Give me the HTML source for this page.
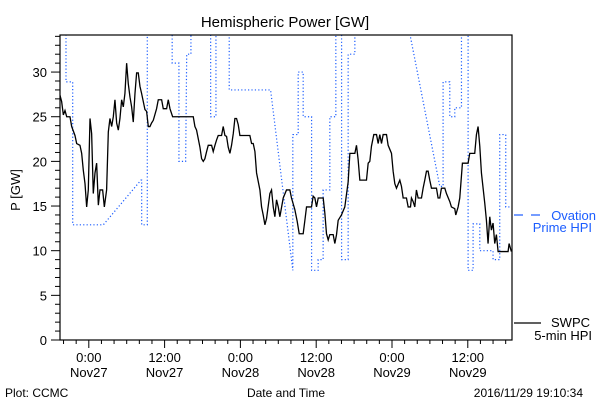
<!DOCTYPE html>
<html><head><meta charset="utf-8"><style>
html,body{margin:0;padding:0;background:#fff}
svg{display:block;font-family:"Liberation Sans",sans-serif}
</style></head><body>
<svg id="chart" width="600" height="400" viewBox="0 0 600 400">
<defs><clipPath id="pc"><rect x="60" y="35" width="452" height="305"/></clipPath></defs>
<rect width="600" height="400" fill="#fff"/>
<text x="285" y="27" font-size="15" text-anchor="middle">Hemispheric Power [GW]</text>
<text transform="translate(20,190) rotate(-90)" font-size="13" text-anchor="middle">P [GW]</text>
<text x="286" y="397" font-size="12" text-anchor="middle">Date and Time</text>
<text x="5" y="397" font-size="12">Plot: CCMC</text>
<text x="583" y="397" font-size="12" text-anchor="end">2016/11/29 19:10:34</text>
<g id="axes"></g>
<g id="series" clip-path="url(#pc)"></g>
<rect x="60" y="35" width="452" height="305" fill="none" stroke="#000" stroke-width="1.2"/>
<g>
<line x1="514" y1="215" x2="523" y2="215" stroke="#1a5cff" stroke-width="1.2"/>
<line x1="531" y1="215" x2="540" y2="215" stroke="#1a5cff" stroke-width="1.2"/>
<text x="596" y="220" font-size="13" fill="#1a5cff" text-anchor="end">Ovation</text>
<text x="592" y="232" font-size="13" fill="#1a5cff" text-anchor="end">Prime HPI</text>
</g>
<g>
<line x1="514" y1="323" x2="541" y2="323" stroke="#000" stroke-width="1.2"/>
<text x="590" y="327" font-size="13" text-anchor="end">SWPC</text>
<text x="592" y="340" font-size="13" text-anchor="end">5-min HPI</text>
</g>
</svg>
<script>
const swpcHours=[-4.56,-4.3,-4.03,-3.77,-3.5,-2.98,-2.71,-2.19,-1.92,-1.4,-1.13,-0.87,-0.6,-0.34,-0.08,0.19,0.45,0.71,0.98,1.24,1.51,1.77,2.19,2.46,2.82,3.09,3.35,3.62,3.88,4.14,4.41,4.67,4.93,5.2,5.46,5.72,5.99,6.25,6.52,6.78,7.04,7.31,7.57,7.83,8.1,8.36,8.89,9.15,9.42,9.68,9.94,10.21,10.73,11.0,11.53,11.79,12.32,12.58,12.85,13.27,16.54,16.8,17.06,17.59,17.86,18.12,18.38,18.65,18.91,19.44,19.7,19.97,20.23,20.49,21.02,21.28,21.55,21.81,22.07,22.34,22.6,22.87,23.13,23.39,23.66,23.92,25.5,25.77,26.03,26.3,26.56,27.09,27.35,27.61,27.88,28.14,28.67,28.93,29.2,29.46,29.72,29.99,30.25,30.78,31.3,31.83,32.09,32.62,32.99,33.31,33.41,33.94,34.21,34.47,35.26,35.52,35.79,36.05,36.32,37.11,37.37,37.63,37.9,38.16,38.69,38.95,39.22,39.48,40.0,40.53,41.06,41.33,42.12,42.38,42.64,42.91,43.96,44.23,44.49,44.75,45.12,45.55,45.81,46.07,46.34,46.6,47.13,47.39,47.92,48.18,48.45,48.71,49.24,49.5,49.77,50.29,50.56,50.93,51.08,51.35,51.61,51.87,52.14,52.67,52.93,53.19,53.46,53.72,53.98,54.25,55.04,55.3,55.57,55.83,56.36,56.62,57.15,57.41,57.94,58.1,58.47,58.73,59.15,60.05,60.31,61.1,61.37,61.63,61.9,62.16,62.69,62.95,63.21,63.48,63.74,64.0,64.27,64.53,64.8,66.38,66.54,66.9];
const swpcValues=[27.4,26.7,25.2,25.7,25.0,25.0,23.9,22.9,22.0,21.8,20.9,19.0,17.5,14.9,16.8,24.8,23.1,16.4,18.7,19.8,15.1,16.8,16.8,14.9,16.8,23.3,24.8,23.9,25.0,26.9,24.3,23.5,24.8,26.9,26.1,27.6,31.0,28.7,27.2,26.1,24.4,27.6,29.9,29.9,28.4,27.6,25.8,25.6,23.9,23.9,24.3,24.6,25.9,26.9,26.9,25.9,25.9,26.9,25.9,25.0,25.0,23.9,23.5,21.6,20.3,20.0,20.3,21.1,21.8,21.8,21.1,21.8,22.4,22.9,22.9,23.9,22.9,22.8,21.6,20.9,21.8,23.1,24.8,24.8,24.1,22.9,22.9,22.0,22.0,21.1,18.7,16.8,14.9,14.0,12.9,13.6,16.4,16.8,14.9,13.8,15.7,14.9,13.8,15.9,16.8,16.8,15.9,14.6,13.3,11.9,11.9,11.9,13.4,14.9,14.9,16.1,15.9,14.9,15.9,15.9,14.2,11.9,11.2,11.8,11.8,10.8,11.8,13.4,14.0,14.9,17.7,20.9,20.9,21.8,20.2,17.9,17.9,19.8,20.0,21.7,23.0,23.0,22.0,23.0,22.0,23.0,23.0,21.8,20.9,18.9,17.5,17.0,17.9,17.2,15.9,15.9,14.9,14.9,15.9,15.5,14.9,16.8,15.9,15.9,17.0,17.9,18.9,18.9,17.9,17.0,17.0,15.9,15.9,17.0,17.0,16.4,15.5,14.9,14.7,14.0,14.9,15.9,19.8,19.8,20.9,20.9,23.0,23.9,21.7,18.7,15.3,13.4,10.8,13.8,12.3,13.1,10.8,11.8,9.9,9.9,10.8,9.9];
const ovationHours=[-4.56,-3.61,-3.61,-2.55,-2.55,2.3,8.26,8.37,8.37,9.26,9.26,13.2,13.2,14.27,14.27,15.33,15.5,16.17,16.17,19.29,19.29,20.13,20.13,22.23,22.23,28.78,32.3,32.3,33.15,33.15,33.94,33.94,35.27,35.27,36.31,36.31,37.1,37.1,38.16,38.16,39.11,39.11,40.02,40.02,41.06,41.06,42.12,42.12,49.24,55.57,56.09,56.09,57.15,57.15,57.94,57.94,59.0,59.0,60.05,60.05,60.84,60.84,61.9,61.9,64.0,64.0,65.06,65.06,66.01,66.01,66.92];
const ovationValues=[40,40,28.9,28.9,12.9,12.9,17.9,17.9,12.9,12.9,40,40,31,31,20,20,32,32,40,40,25,25,40,40,28,28,7.8,23,23,30,30,25,25,7.8,7.8,9,9,16.8,16.8,25,25,40,40,9,9,32,32,40,40,17.2,17.2,28.9,28.9,25,25,26,26,40,40,7.8,7.8,13,13,10,10,9,9,23,23,14.9,14.9];
const yTicks=[0,5,10,15,20,25,30];
const xTickHours=[0,12,24,36,48,60];
const xTickTimes=["0:00","12:00","0:00","12:00","0:00","12:00"];
const xTickDays=["Nov27","Nov27","Nov28","Nov28","Nov29","Nov29"];

const X0=60,X1=512,Y0=340,Y1=35,HMIN=-4.56,HMAX=67.0,VMAX=34.15;
const sx=h=>X0+(h-HMIN)/(HMAX-HMIN)*(X1-X0);
const sy=v=>Y0-v/VMAX*(Y0-Y1);
const NS="http://www.w3.org/2000/svg";
function mk(tag,attrs,parent){const e=document.createElementNS(NS,tag);for(const k in attrs)e.setAttribute(k,attrs[k]);parent.appendChild(e);return e;}
const axes=document.getElementById('axes'),series=document.getElementById('series');
for(let v=0;v<=34;v++){
  const major=v%5===0;
  const t=mk('line',{x1:X0-(major?9:5),x2:X0,y1:sy(v),y2:sy(v),stroke:'#000','stroke-width':1},axes);
  
  
}
yTicks.forEach(v=>{
  const t=mk('text',{x:X0-13,y:sy(v)+5,'font-size':13,'text-anchor':'end'},axes);
  t.textContent=v;
  
  
});
for(let h=-4;h<=66;h+=2){
  const major=h%12===0;
  const t=mk('line',{x1:sx(h),x2:sx(h),y1:Y0,y2:Y0+(major?8:4),stroke:'#000','stroke-width':1},axes);
  
  
}
xTickHours.forEach((h,i)=>{
  const a=mk('text',{x:sx(h),y:362,'font-size':13,'text-anchor':'middle'},axes);
  a.textContent=xTickTimes[i];
  
  
  const b=mk('text',{x:sx(h),y:377,'font-size':13,'text-anchor':'middle'},axes);
  b.textContent=xTickDays[i];
  
  
});
const op=mk('polyline',{points:ovationHours.map((h,i)=>sx(h)+','+sy(ovationValues[i])).join(' '),fill:'none',stroke:'#1a5cff','stroke-width':1.2,'stroke-dasharray':'1.2,2.2'},series);


const sp=mk('polyline',{points:swpcHours.map((h,i)=>sx(h)+','+sy(swpcValues[i])).join(' '),fill:'none',stroke:'#000','stroke-width':1.3},series);


</script>
</body></html>
